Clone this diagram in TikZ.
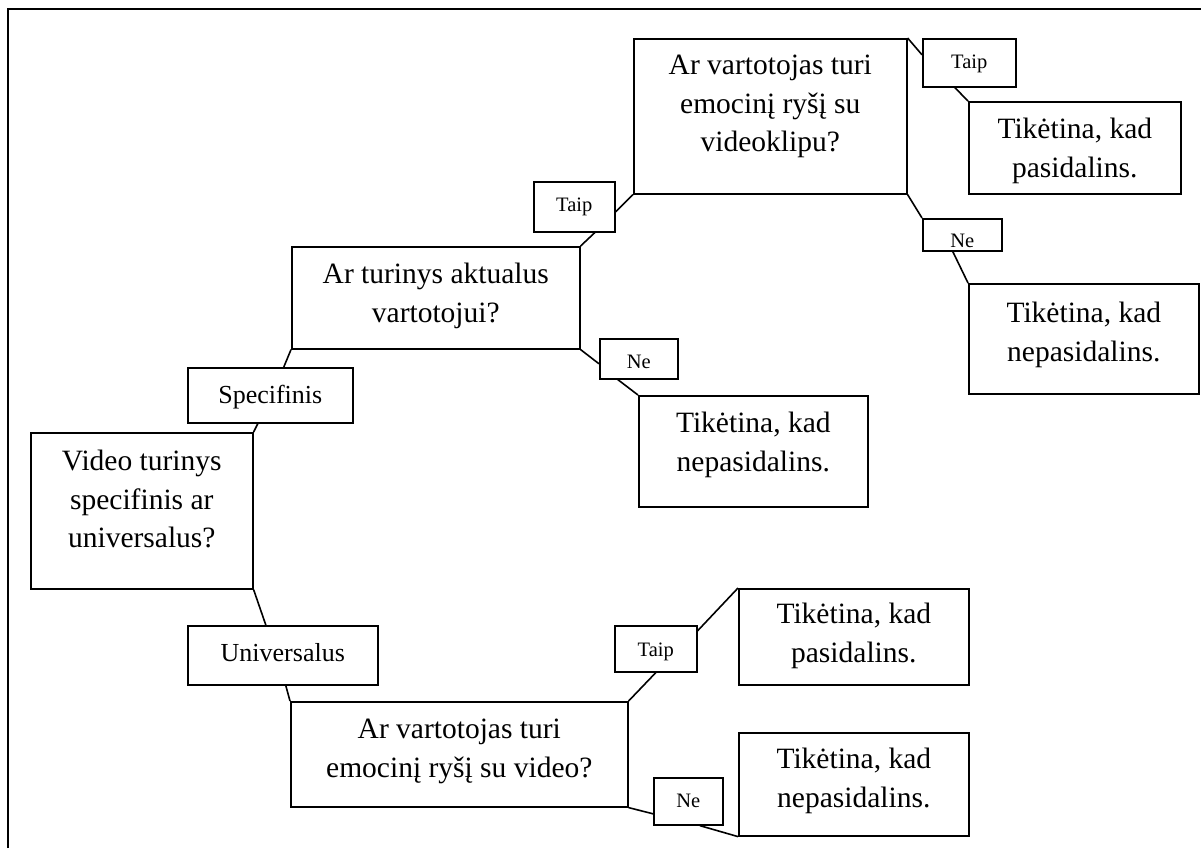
\documentclass[tikz,border=0pt]{standalone}
\usepackage{fontspec}
\setmainfont{Liberation Serif}
% fixed-size text block: width, height, first-baseline depth, text
\newcommand\boxtxt[4]{\parbox[c][#2pt][t]{#1pt}{\centering\rule{0pt}{#3pt}#4}}
\tikzset{
  box/.style={draw, line width=1.6pt, inner sep=0pt, anchor=north west},
  big/.style={font=\fontsize{29.5}{38.5}\selectfont},
  mid/.style={font=\fontsize{26}{30}\selectfont},
  small/.style={font=\fontsize{20.5}{24}\selectfont},
  link/.style={line width=1.6pt},
  frame/.style={line width=1.8pt},
}
\begin{document}
\begin{tikzpicture}[x=1pt,y=-1pt]
\useasboundingbox (0,0) rectangle (1201,848);
\fill[white] (0,0) rectangle (1201,848);
\draw[frame] (8,848) -- (8,9) -- (1201,9);

% questions, answers and outcomes
\node[box,big]   (q1)    at (30,432)  {\boxtxt{222}{156}{38}{Video turinys\\specifinis ar\\universalus?}};
\node[box,mid]   (spec)  at (187,367) {\boxtxt{165}{55}{36}{Specifinis}};
\node[box,mid]   (univ)  at (187,625) {\boxtxt{190}{59}{36}{Universalus}};
\node[box,big]   (q2)    at (291,246) {\boxtxt{288}{102}{37}{Ar turinys aktualus\\vartotojui?}};
\node[box,small] (taipB) at (533,181) {\boxtxt{81}{50}{30}{Taip}};
\node[box,small] (neB)   at (599,338) {\boxtxt{78}{40}{30}{Ne}};
\node[box,big]   (resC)  at (638,395) {\boxtxt{229}{111}{37}{Tikėtina, kad\\nepasidalins.}};
\node[box,big]   (q4)    at (633,38)  {\boxtxt{273}{155}{36}{Ar vartotojas turi\\emocinį ryšį su\\videoklipu?}};
\node[box,small] (taipA) at (922,38)  {\boxtxt{93}{48}{30}{Taip}};
\node[box,big]   (resA)  at (968,101) {\boxtxt{212}{92}{37}{Tikėtina, kad\\pasidalins.}};
\node[box,small] (neA)   at (922,218) {\boxtxt{79}{32}{29}{Ne}};
\node[box,big]   (resB)  at (968,283) {\boxtxt{230}{110}{39}{Tikėtina, kad\\nepasidalins.}};
\node[box,big]   (q3)    at (290,701) {\boxtxt{337}{105}{37}{Ar vartotojas turi\\emocinį ryšį su video?}};
\node[box,small] (taipC) at (614,625) {\boxtxt{82}{46}{31}{Taip}};
\node[box,big]   (resD)  at (738,588) {\boxtxt{230}{96}{35}{Tikėtina, kad\\pasidalins.}};
\node[box,small] (neC)   at (653,777) {\boxtxt{69}{47}{30}{Ne}};
\node[box,big]   (resE)  at (738,732) {\boxtxt{230}{103}{36}{Tikėtina, kad\\nepasidalins.}};

% connectors
\draw[link] ([xshift=13.5pt]spec.north) -- (q2.south west);
\draw[link] ([xshift=-12.5pt]spec.south) -- (q1.north east);
\draw[link] (q1.south east) -- ([xshift=-17pt]univ.north);
\draw[link] ([xshift=3pt]univ.south) -- (q3.north west);
\draw[link] (q2.north east) -- ([xshift=20.5pt]taipB.south);
\draw[link] ([yshift=-5pt]taipB.east) -- (q4.south west);
\draw[link] (q4.north east) -- ([yshift=8pt]taipA.west);
\draw[link] ([xshift=-14.5pt]taipA.south) -- (resA.north west);
\draw[link] (q4.south east) -- (neA.north west);
\draw[link] ([xshift=-9.5pt]neA.south) -- (resB.north west);
\draw[link] (q2.south east) -- ([yshift=-5pt]neB.west);
\draw[link] ([xshift=-21pt]neB.south) -- (resC.north west);
\draw[link] (q3.north east) -- (taipC.south);
\draw[link] ([yshift=18pt]taipC.east) -- (resD.north west);
\draw[link] (q3.south east) -- ([yshift=-12.5pt]neC.west);
\draw[link] ([xshift=11.5pt]neC.south) -- (resE.south west);
\end{tikzpicture}
\end{document}
